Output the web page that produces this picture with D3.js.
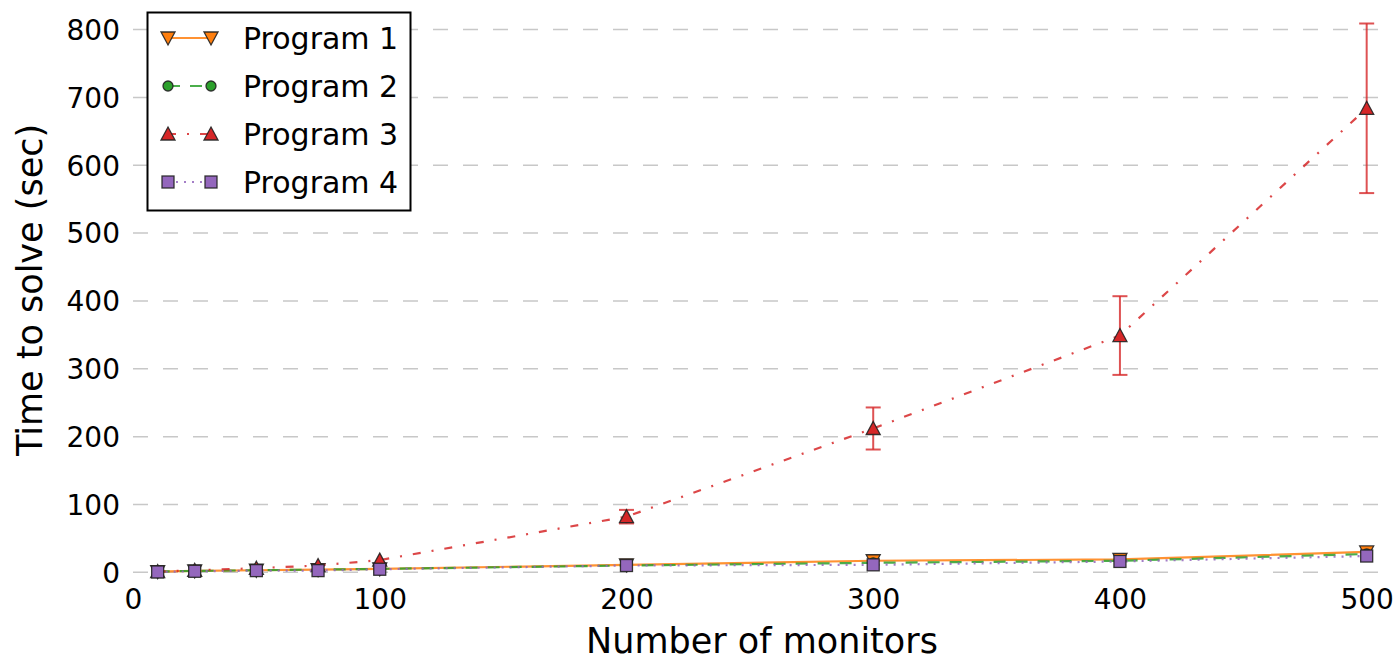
<!DOCTYPE html>
<html>
<head>
<meta charset="utf-8">
<script src="https://cdn.jsdelivr.net/npm/d3@7"></script>
<style>
  html, body { margin: 0; padding: 0; background: #fff; }
  svg { display: block; font-family: "DejaVu Sans", sans-serif; }
</style>
</head>
<body>
<svg id="chart" width="1395" height="661"></svg>
<script>
// ---- data ----
const monitors = [10, 25, 50, 75, 100, 200, 300, 400, 500];
const program1 = [1, 2, 3, 4, 5, 11, 17, 19, 30];
const program2 = [1, 2, 3, 4, 5, 10, 14, 17, 27];
const program3 = [1, 3, 6, 10, 18, 82, 212, 349, 684];
const program3Err = [0, 0, 0, 0, 0, 10, 31, 58, 125];
const program4 = [0.5, 1.5, 2.5, 2.5, 4.5, 10, 11, 16, 24];
const yTicks = [0, 100, 200, 300, 400, 500, 600, 700, 800];
const xTicks = [0, 100, 200, 300, 400, 500];
const seriesNames = ["Program 1", "Program 2", "Program 3", "Program 4"];

const series = [
  { name: seriesNames[0], values: program1, color: "#ff7f0e", dash: null, marker: "tridown" },
  { name: seriesNames[1], values: program2, color: "#2ca02c", dash: "12,10", marker: "circle" },
  { name: seriesNames[2], values: program3, err: program3Err, color: "#d62728", dash: "8,11,2,11", marker: "triup" },
  { name: seriesNames[3], values: program4, color: "#9467bd", dash: "2,6", marker: "square" }
];

const svg = d3.select("#chart");
const x = d3.scaleLinear().domain([0, 505.4]).range([133, 1380]);
const y = d3.scaleLinear().domain([0, 800]).range([572.3, 29.6]);

// gridlines
svg.append("g").selectAll("line").data(yTicks).join("line")
  .attr("x1", x(0)).attr("x2", x(505.4))
  .attr("y1", d => y(d)).attr("y2", d => y(d))
  .attr("stroke", "#c8c8c8").attr("stroke-width", 1.5)
  .attr("stroke-dasharray", "15,15");

// axes (no spines, no ticks)
const yAxis = d3.axisLeft(y).tickValues(yTicks).tickSize(0).tickPadding(0);
const gy = svg.append("g").attr("transform", "translate(120,0)").call(yAxis);
gy.select(".domain").remove();
gy.selectAll("text").attr("font-size", 28).attr("font-family", "DejaVu Sans").attr("fill", "#000").attr("dy", "0.35em");

const xAxis = d3.axisBottom(x).tickValues(xTicks).tickSize(0).tickPadding(0);
const gx = svg.append("g").attr("transform", "translate(0,588)").call(xAxis);
gx.select(".domain").remove();
gx.selectAll("text").attr("font-size", 28).attr("font-family", "DejaVu Sans").attr("fill", "#000").attr("dy", "0.76em");

// axis titles
svg.append("text").attr("x", 762).attr("y", 653)
  .attr("text-anchor", "middle").attr("font-size", 35).text("Number of monitors");
svg.append("text").attr("transform", "translate(42,290) rotate(-90)")
  .attr("text-anchor", "middle").attr("font-size", 35).text("Time to solve (sec)");

// marker symbol
function drawMarker(g, type, color, cx, cy) {
  let el;
  if (type === "square") {
    el = g.append("rect").attr("x", cx - 6).attr("y", cy - 6).attr("width", 12).attr("height", 12);
  } else if (type === "circle") {
    el = g.append("circle").attr("cx", cx).attr("cy", cy).attr("r", 5);
  } else if (type === "triup") {
    el = g.append("path").attr("d", `M${cx},${cy - 7}L${cx + 7},${cy + 6}L${cx - 7},${cy + 6}Z`);
  } else {
    el = g.append("path").attr("d", `M${cx},${cy + 7}L${cx + 7},${cy - 6}L${cx - 7},${cy - 6}Z`);
  }
  el.attr("fill", color).attr("stroke", "#222").attr("stroke-width", 1.3).attr("stroke-opacity", 0.9);
}

const line = d3.line().x((d, i) => x(monitors[i])).y(d => y(d));

series.forEach(s => {
  const g = svg.append("g");
  g.append("path").datum(s.values).attr("d", line)
    .attr("fill", "none").attr("stroke", s.color).attr("stroke-width", 2.2)
    .attr("stroke-opacity", 0.85)
    .attr("stroke-dasharray", s.dash);
  if (s.err) {
    s.values.forEach((v, i) => {
      const e = s.err[i];
      if (e <= 0) return;
      const cx = x(monitors[i]);
      g.append("line").attr("x1", cx).attr("x2", cx).attr("y1", y(v - e)).attr("y2", y(v + e))
        .attr("stroke", s.color).attr("stroke-width", 2).attr("stroke-opacity", 0.8);
      [v - e, v + e].forEach(t => {
        g.append("line").attr("x1", cx - 7.5).attr("x2", cx + 7.5).attr("y1", y(t)).attr("y2", y(t))
          .attr("stroke", s.color).attr("stroke-width", 2).attr("stroke-opacity", 0.8);
      });
    });
  }
  s.values.forEach((v, i) => drawMarker(g, s.marker, s.color, x(monitors[i]), y(v)));
});

// legend
const lg = svg.append("g");
lg.append("rect").attr("x", 147.5).attr("y", 12.5).attr("width", 263).attr("height", 198)
  .attr("fill", "#fff").attr("stroke", "#000").attr("stroke-width", 2);
const legendY = [38, 86, 134, 182];
series.forEach((s, i) => {
  const ly = legendY[i];
  lg.append("line").attr("x1", 168).attr("x2", 211).attr("y1", ly).attr("y2", ly)
    .attr("stroke", s.color).attr("stroke-width", 2.2).attr("stroke-opacity", 0.85)
    .attr("stroke-dasharray", s.dash);
  drawMarker(lg, s.marker, s.color, 168, ly);
  drawMarker(lg, s.marker, s.color, 211, ly);
  lg.append("text").attr("x", 243).attr("y", ly).attr("dy", "0.36em")
    .attr("font-size", 30).attr("fill", "#000").text(s.name);
});
</script>
</body>
</html>
